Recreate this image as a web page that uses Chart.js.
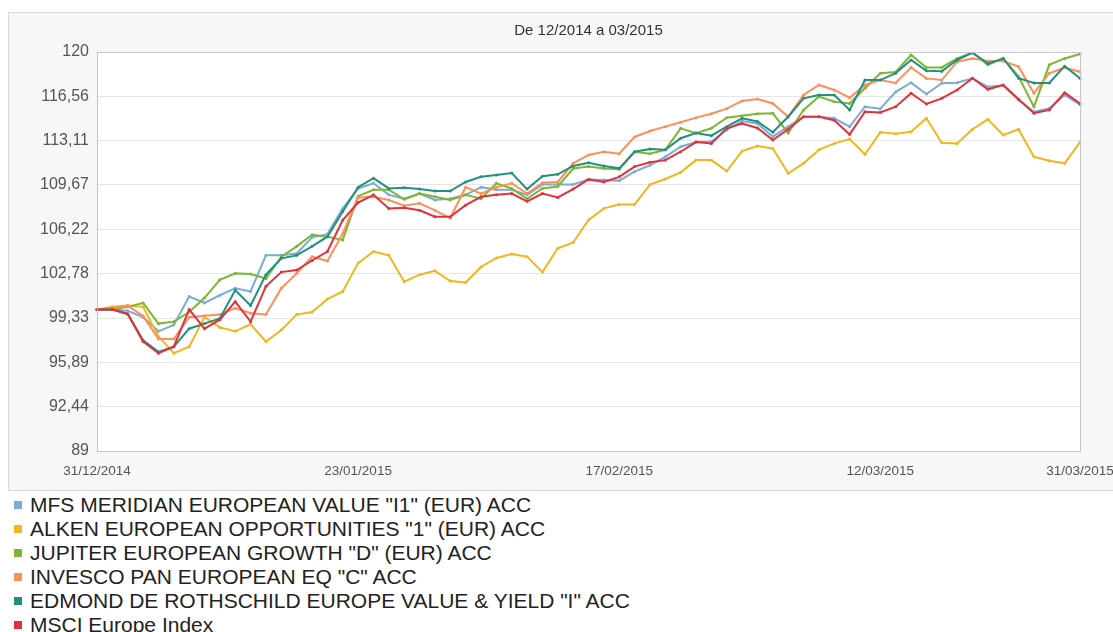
<!DOCTYPE html>
<html>
<head>
<meta charset="utf-8">
<script src="https://cdn.jsdelivr.net/npm/chart.js@4.4.1/dist/chart.umd.min.js"></script>
<style>
  html, body { margin: 0; padding: 0; background: #fff; width: 1113px; height: 632px; overflow: hidden; font-family: "Liberation Sans", Arial, sans-serif; }
  #frame { position: absolute; left: 8px; top: 12px; width: 1140px; height: 477px; background: #f7f7f7; border: 1px solid #d8d8d8; }
  #wrap { position: absolute; left: 0; top: 0; width: 1140px; height: 490px; }
  #legend { position: absolute; left: 14px; top: 493px; margin: 0; padding: 0; list-style: none; }
  #legend li { height: 24px; line-height: 24px; font-size: 21px; color: #222; white-space: nowrap; }
  #legend span { display: inline-block; width: 8px; height: 8px; margin-right: 8px; vertical-align: middle; position: relative; top: -1px; }
</style>
</head>
<body>
<div id="frame"></div>
<div id="wrap"><canvas id="chart" width="1140" height="490"></canvas></div>
<ul id="legend"></ul>
<script>
// Werkdagen van 31/12/2014 tot 31/03/2015
const dates = [
  '31/12/2014',
  '01/01/2015','02/01/2015','05/01/2015','06/01/2015','07/01/2015','08/01/2015','09/01/2015',
  '12/01/2015','13/01/2015','14/01/2015','15/01/2015','16/01/2015','19/01/2015','20/01/2015',
  '21/01/2015','22/01/2015','23/01/2015','26/01/2015','27/01/2015','28/01/2015','29/01/2015','30/01/2015',
  '02/02/2015','03/02/2015','04/02/2015','05/02/2015','06/02/2015','09/02/2015','10/02/2015',
  '11/02/2015','12/02/2015','13/02/2015','16/02/2015','17/02/2015','18/02/2015','19/02/2015','20/02/2015',
  '23/02/2015','24/02/2015','25/02/2015','26/02/2015','27/02/2015',
  '02/03/2015','03/03/2015','04/03/2015','05/03/2015','06/03/2015','09/03/2015','10/03/2015',
  '11/03/2015','12/03/2015','13/03/2015','16/03/2015','17/03/2015','18/03/2015','19/03/2015','20/03/2015',
  '23/03/2015','24/03/2015','25/03/2015','26/03/2015','27/03/2015','30/03/2015','31/03/2015'
];
const xTickLabels = ['31/12/2014', '23/01/2015', '17/02/2015', '12/03/2015', '31/03/2015'];
const yTicks = [89, 92.44, 95.89, 99.33, 102.78, 106.22, 109.67, 113.11, 116.56, 120];

const names = [
  'MFS MERIDIAN EUROPEAN VALUE "I1" (EUR) ACC',
  'ALKEN EUROPEAN OPPORTUNITIES "1" (EUR) ACC',
  'JUPITER EUROPEAN GROWTH "D" (EUR) ACC',
  'INVESCO PAN EUROPEAN EQ "C" ACC',
  'EDMOND DE ROTHSCHILD EUROPE VALUE & YIELD "I" ACC',
  'MSCI Europe Index'
];

const mfs = [100, 100, 99.9, 99.4, 98.3, 98.8, 101.0, 100.5, 101.1, 101.65, 101.4, 104.2, 104.2, 104.35, 105.6, 105.85, 107.85,
  109.4, 109.8, 108.9, 108.6, 109.0, 108.5, 108.6, 108.9, 109.5, 109.3, 109.3, 108.9, 109.7, 109.7, 109.7, 110.1, 110.05,
  110.0, 110.7, 111.2, 111.86, 112.64, 113.0, 113.05, 113.94, 114.64, 114.45, 113.42, 114.2, 114.97, 114.97, 114.85, 114.2,
  115.75, 115.6, 116.9, 117.62, 116.74, 117.57, 117.62, 117.96, 117.3, 117.4, 116.27, 115.36, 115.62, 116.66, 115.9];
const alken = [100, 100.2, 100.3, 100.2, 97.9, 96.6, 97.1, 99.4, 98.6, 98.3, 98.85, 97.5, 98.4, 99.6, 99.8, 100.8, 101.4,
  103.6, 104.5, 104.2, 102.15, 102.7, 103.0, 102.2, 102.1, 103.3, 104.0, 104.3, 104.1, 102.9, 104.75, 105.2, 106.95, 107.85,
  108.15, 108.15, 109.7, 110.13, 110.65, 111.6, 111.6, 110.75, 112.3, 112.7, 112.5, 110.57, 111.35, 112.4, 112.9, 113.24,
  112.05, 113.76, 113.65, 113.8, 114.85, 112.95, 112.9, 114.0, 114.77, 113.55, 114.0, 111.86, 111.55, 111.35, 113.0];
const jupiter = [100, 100, 100.2, 100.5, 98.9, 99.05, 99.8, 100.9, 102.3, 102.8, 102.75, 102.4, 104.1, 104.9, 105.8, 105.65, 105.4,
  108.8, 109.3, 109.3, 108.55, 109.0, 108.75, 108.5, 108.9, 108.6, 109.8, 109.4, 108.6, 109.4, 109.55, 110.95, 111.1, 110.95,
  110.9, 112.25, 112.1, 112.4, 114.07, 113.7, 114.07, 114.9, 115.05, 115.2, 115.24, 113.7, 115.5, 116.53, 116.14, 116.0,
  117.18, 118.35, 118.45, 119.77, 118.8, 118.8, 119.5, 119.95, 119.0, 119.5, 118.1, 115.75, 119.0, 119.5, 119.85];
const invesco = [100, 100.1, 100.3, 99.5, 97.7, 97.7, 99.4, 99.5, 99.6, 100.1, 99.7, 99.6, 101.65, 102.8, 104.1, 103.76, 105.9,
  108.7, 108.75, 108.5, 108.06, 108.24, 107.7, 107.1, 109.5, 109.0, 109.5, 109.8, 109.0, 109.85, 109.9, 111.35, 112.0, 112.25,
  112.1, 113.4, 113.86, 114.2, 114.54, 114.9, 115.2, 115.6, 116.2, 116.35, 116.0, 114.97, 116.66, 117.44, 117.05, 116.45,
  117.44, 117.82, 117.6, 118.8, 117.95, 117.82, 119.25, 119.5, 119.3, 119.3, 118.86, 116.8, 118.35, 118.8, 118.47];
const edmond = [100, 100, 99.65, 97.6, 96.7, 97.1, 98.5, 98.9, 99.3, 101.5, 100.3, 102.7, 103.97, 104.2, 104.9, 105.65, 107.6,
  109.5, 110.2, 109.4, 109.45, 109.35, 109.2, 109.2, 109.9, 110.3, 110.45, 110.6, 109.35, 110.35, 110.5, 111.15, 111.4, 111.15,
  110.96, 112.25, 112.46, 112.4, 113.3, 113.7, 113.5, 114.2, 114.85, 114.6, 113.76, 114.97, 116.4, 116.66, 116.66, 115.5,
  117.82, 117.82, 118.35, 119.38, 118.55, 118.5, 119.38, 119.95, 119.1, 119.5, 117.96, 117.6, 117.6, 118.9, 117.96];
const msci = [100, 100, 99.65, 97.5, 96.6, 97.1, 100.0, 98.5, 99.2, 100.6, 99.05, 101.8, 102.9, 103.06, 103.8, 104.5, 106.95,
  108.3, 108.9, 107.85, 107.9, 107.7, 107.2, 107.2, 108.1, 108.75, 108.9, 109.0, 108.4, 109.0, 108.7, 109.35, 110.1, 109.9,
  110.3, 111.1, 111.43, 111.6, 112.25, 113.0, 112.9, 114.07, 114.45, 114.1, 113.16, 114.0, 114.97, 114.97, 114.7, 113.6,
  115.36, 115.3, 115.75, 116.8, 115.96, 116.4, 117.05, 117.96, 117.1, 117.44, 116.33, 115.24, 115.5, 116.84, 116.0];

const series = [mfs, alken, jupiter, invesco, edmond, msci];
const colors = ['#7aacd6', '#f0b61e', '#7cb733', '#fd8f5b', '#22907e', '#e1313c'];
const font = '"Liberation Sans", Arial, sans-serif';

// Witte plotzone met grijze rand
const plotFrame = {
  id: 'plotFrame',
  beforeDraw(chart) {
    const a = chart.chartArea, c = chart.ctx;
    c.save();
    c.fillStyle = '#fff';
    c.fillRect(a.left, a.top, a.right - a.left, a.bottom - a.top);
    c.restore();
  },
  afterDraw(chart) {
    const a = chart.chartArea, c = chart.ctx;
    c.save();
    c.strokeStyle = '#c6c6c6';
    c.lineWidth = 1;
    c.strokeRect(Math.round(a.left) + 0.5, Math.round(a.top) + 0.5, Math.round(a.right - a.left), Math.round(a.bottom - a.top));
    c.restore();
  }
};

const ctx = document.getElementById('chart').getContext('2d');
const chart = new Chart(ctx, {
  type: 'line',
  data: {
    labels: dates,
    datasets: series.map((s, i) => ({
      label: names[i],
      data: s,
      borderColor: colors[i],
      backgroundColor: colors[i],
      borderWidth: 2,
      pointRadius: 1.5,
      pointBorderWidth: 0,
      tension: 0,
      order: series.length - i
    }))
  },
  options: {
    responsive: false,
    animation: false,
    layout: { padding: { left: 0, right: 60, top: 0, bottom: 0 } },
    plugins: {
      legend: { display: false },
      tooltip: { enabled: false },
      title: {
        display: true, text: 'De 12/2014 a 03/2015', fullSize: false, color: '#333',
        font: { size: 15, family: font, weight: 'normal' }, padding: { top: 22, bottom: 12 }
      }
    },
    scales: {
      x: {
        grid: { display: false, drawTicks: false },
        border: { display: false },
        ticks: {
          autoSkip: false, maxRotation: 0, minRotation: 0, padding: 12, color: '#555',
          font: { size: 13.5, family: font },
          callback(v) { return this.getLabelForValue(v); }
        },
        afterBuildTicks: s => { s.ticks = s.ticks.filter(t => xTickLabels.includes(dates[t.value])); },
        afterFit: s => { s.height = 39; }
      },
      y: {
        min: 89, max: 120,
        afterBuildTicks: s => { s.ticks = yTicks.map(v => ({ value: v })); },
        grid: { color: '#e6e6e6', drawTicks: false },
        border: { display: false },
        ticks: {
          padding: 8, color: '#555', font: { size: 16, family: font },
          callback: v => String(v).replace('.', ',')
        },
        afterFit: s => { s.width = 97; }
      }
    }
  },
  plugins: [plotFrame]
});

// Legende onder de grafiek
const legend = document.getElementById('legend');
names.forEach((n, i) => {
  const li = document.createElement('li');
  const sq = document.createElement('span');
  sq.style.background = colors[i];
  li.appendChild(sq);
  li.appendChild(document.createTextNode(n));
  legend.appendChild(li);
});
</script>
</body>
</html>
